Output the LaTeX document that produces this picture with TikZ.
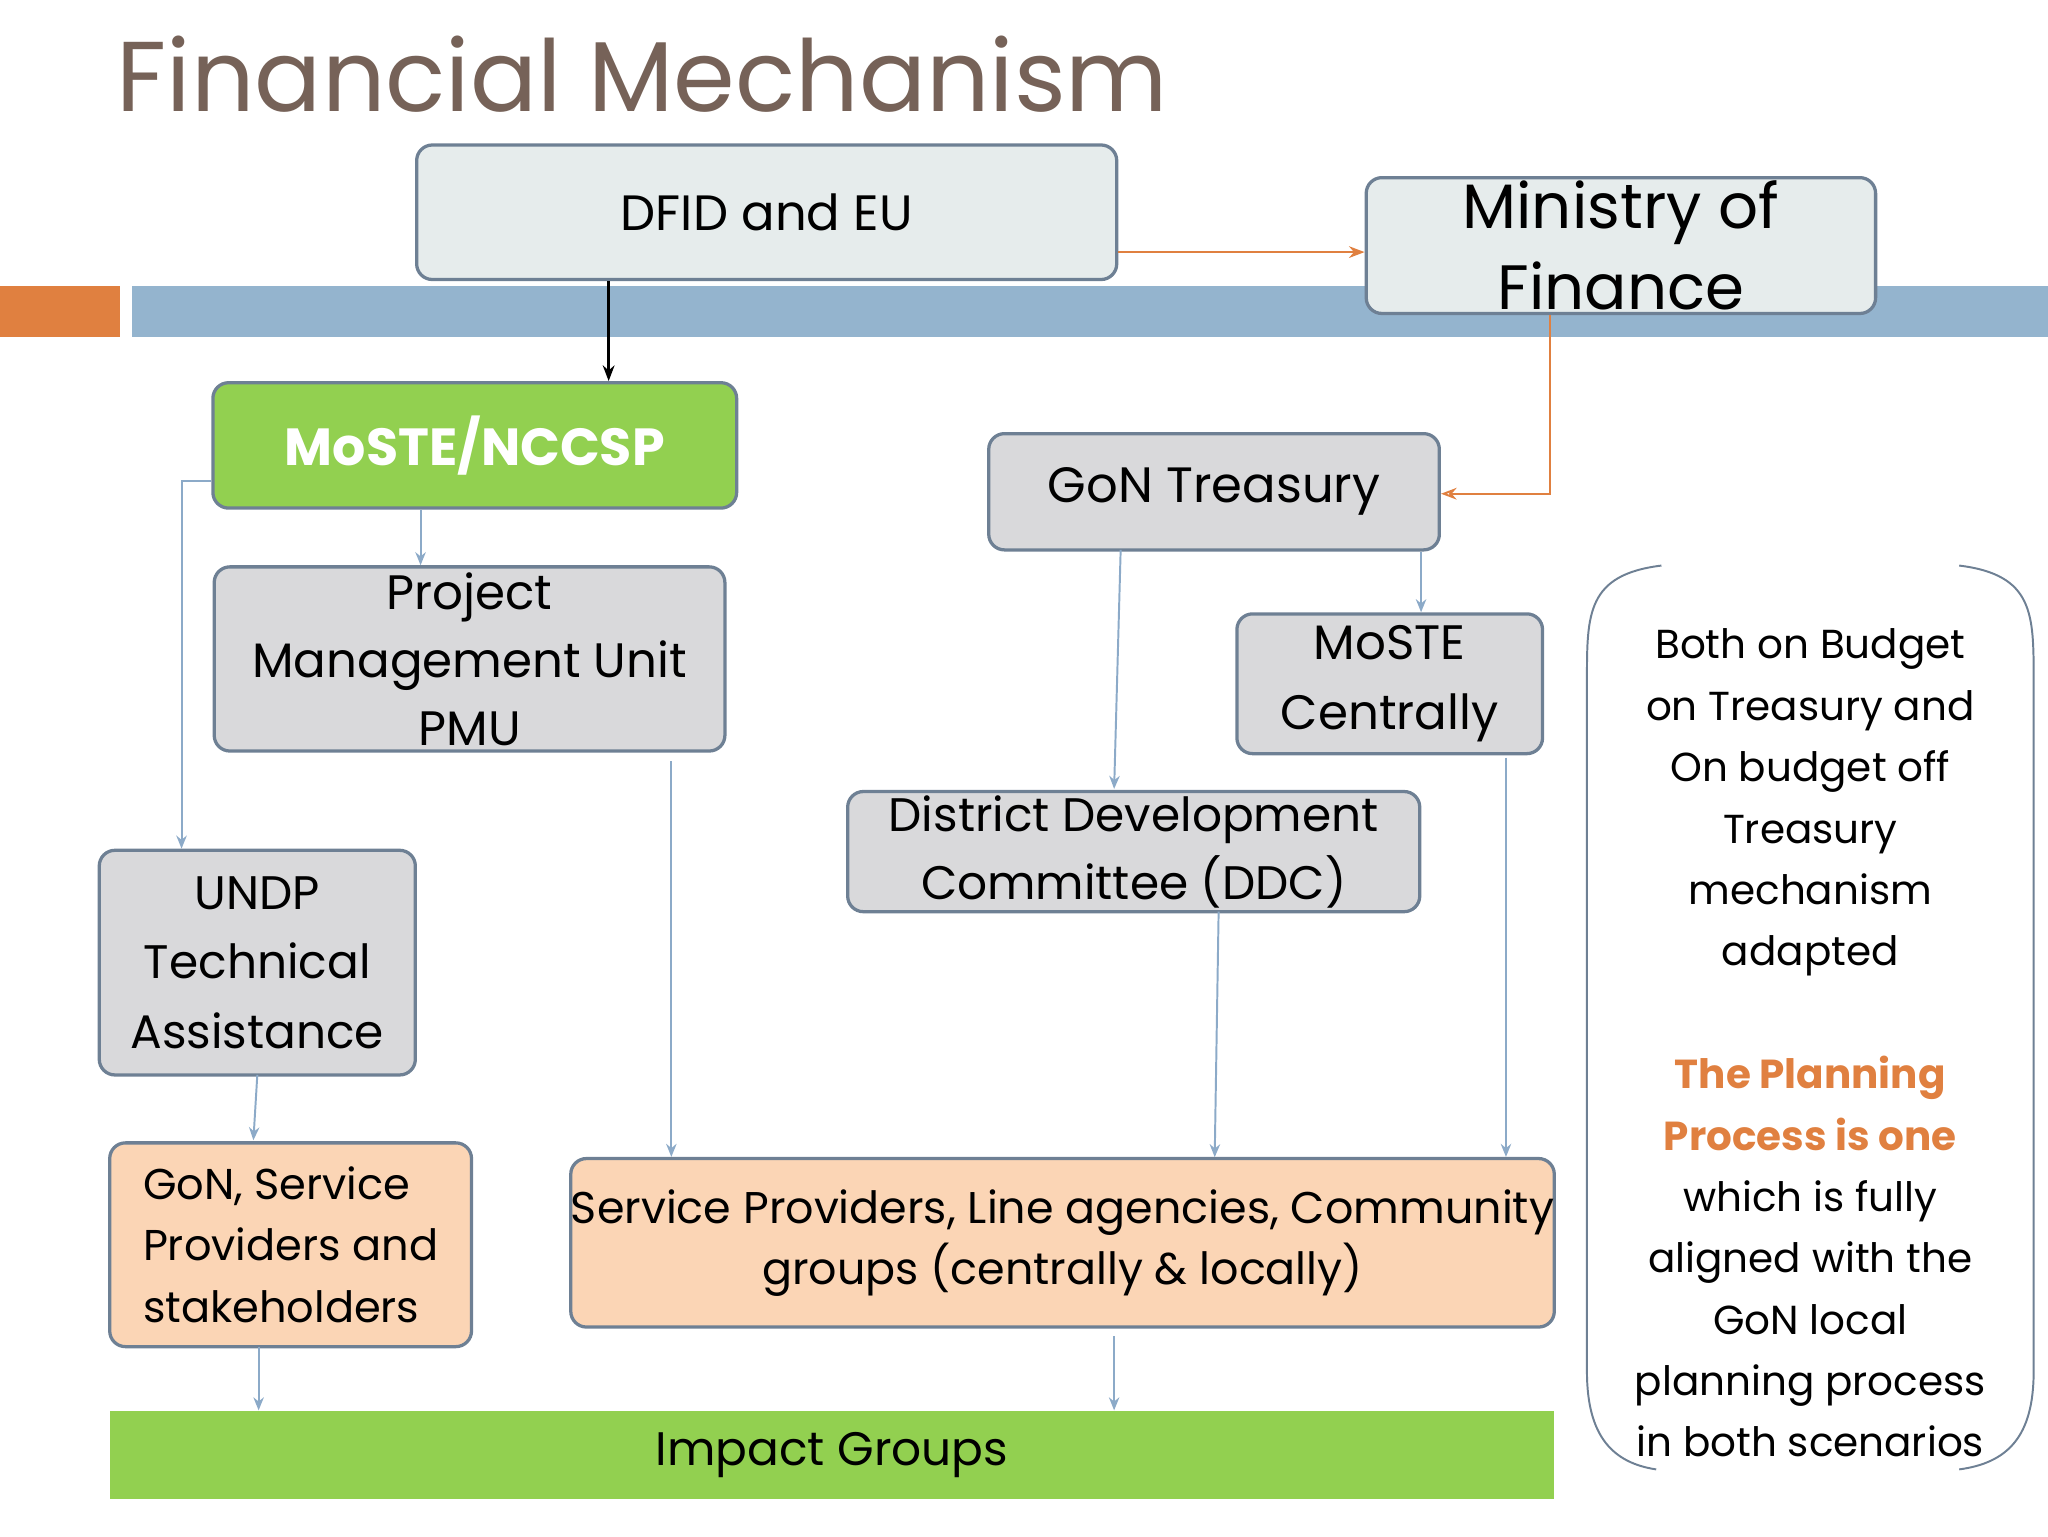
\documentclass[tikz,border=0pt]{standalone}
\usepackage{fontspec}
\setmainfont{Poppins}
\usetikzlibrary{arrows.meta}
\definecolor{ttl}{RGB}{118,98,88}
\definecolor{org}{RGB}{224,128,64}
\definecolor{bbar}{RGB}{148,180,206}
\definecolor{bd}{RGB}{110,128,148}
\definecolor{lt}{RGB}{230,236,236}
\definecolor{gr}{RGB}{217,217,219}
\definecolor{grn}{RGB}{146,208,80}
\definecolor{pch}{RGB}{251,213,181}
\definecolor{con}{RGB}{140,170,200}
\newcommand{\fsz}[2]{\fontsize{#1}{#2}\selectfont}
\begin{document}
\begin{tikzpicture}[x=1pt,y=-1pt,
 box/.style={draw=bd,line width=2.5pt,rounded corners=12pt,align=center,text=black,inner sep=0pt},
 cn/.style={con,line width=1.5pt,-{Stealth[length=10pt,width=8pt]}},
 on/.style={org,line width=1.5pt,-{Stealth[length=12pt,width=9pt,open]}}]
\useasboundingbox (0,0) rectangle (1568,1176);
\node[text=ttl,anchor=west,font=\fsz{76}{80}] (t) at (86,57) {Financial Mechanism};
\fill[org] (0,219) rectangle (92,258);
\fill[bbar] (101,219) rectangle (1568,258);
\node[box,fill=lt,minimum width=536pt,minimum height=103pt,font=\fsz{38}{50}] (dfid) at (587,162.5) {DFID and EU};
\node[box,fill=lt,minimum width=390pt,minimum height=104pt,font=\fsz{48}{62}] (mof) at (1241,188) {Ministry of\\Finance};
\node[box,fill=grn,text=white,minimum width=401pt,minimum height=96pt,font=\bfseries\fsz{40}{50}] (nccsp) at (363.5,341) {MoSTE/NCCSP};
\node[box,fill=gr,minimum width=345pt,minimum height=89pt,font=\fsz{38}{50}] (tre) at (929.5,376.5) {GoN Treasury};
\node[box,fill=gr,minimum width=391pt,minimum height=141pt,font=\fsz{37}{52}] (pmu) at (359.5,504.5) {Project\\Management Unit\\PMU};
\node[box,fill=gr,minimum width=234pt,minimum height=107pt,font=\fsz{37}{53}] (mc) at (1064,523.5) {MoSTE\\Centrally};
\node[box,fill=gr,minimum width=438pt,minimum height=92pt,font=\fsz{36}{52}] (ddc) at (868,652) {District Development\\Committee (DDC)};
\node[box,fill=gr,minimum width=242pt,minimum height=172pt,font=\fsz{36}{53}] (undp) at (197,737) {UNDP\\Technical\\Assistance};
\node[box,fill=pch,minimum width=277pt,minimum height=156pt,font=\fsz{33}{47},align=left] (gon) at (222.5,953) {GoN, Service\\Providers and\\stakeholders};
\node[box,fill=pch,minimum width=753pt,minimum height=129pt,font=\fsz{34}{47}] (sp) at (813.5,951.5) {Service Providers, Line agencies, Community\\groups (centrally \& locally)};
\node[fill=grn,minimum width=1106pt,minimum height=68pt,inner sep=0pt,font=\fsz{36}{44}] (ig) at (637,1114) {Impact Groups};
% right panel
\draw[bd,line width=1.5pt] (1272,433) .. controls (1215,440) and (1215,470) .. (1215,520) -- (1215,1050) .. controls (1215,1100) and (1235,1120) .. (1268,1125);
\draw[bd,line width=1.5pt] (1500,433) .. controls (1557,440) and (1557,470) .. (1557,520) -- (1557,1050) .. controls (1557,1100) and (1537,1120) .. (1500,1125);
\node[align=center,font=\fsz{31}{47},anchor=north] (rt) at (1386,478) {Both on Budget\\on Treasury and\\On budget off\\Treasury\\mechanism\\adapted\\[47pt]{\color{org}\bfseries The Planning}\\{\color{org}\bfseries Process is one}\\which is fully\\aligned with the\\GoN local\\planning process\\in both scenarios};
% connectors
\draw[org,line width=1.5pt,-{Stealth[length=12pt,width=9pt]}] (dfid.east|-0,193) -- (mof.west|-0,193);
\draw[black,line width=2pt,-{Stealth[length=12pt,width=9pt]}] (dfid.south-|466,0) -- (nccsp.north-|466,0);
\draw[on] (mof.south-|1187,0) -- (1187,378) -- (tre.east|-0,378);
\draw[cn] (nccsp.west|-0,368) -- (139,368) -- (undp.north-|139,0);
\draw[cn] (nccsp.south-|322,0) -- (pmu.north-|322,0);
\draw[cn] (514,583) -- (sp.north-|514,0);
\draw[cn] (858,421) -- (853,604);
\draw[cn] (tre.south-|1088,0) -- (mc.north-|1088,0);
\draw[cn] (1153,580) -- (sp.north-|1153,0);
\draw[cn] (933,698) -- (930,886);
\draw[cn] (197,823) -- (194,873);
\draw[cn] (198,1031) -- (ig.north-|198,0);
\draw[cn] (853,1023) -- (ig.north-|853,0);
\end{tikzpicture}
\end{document}
